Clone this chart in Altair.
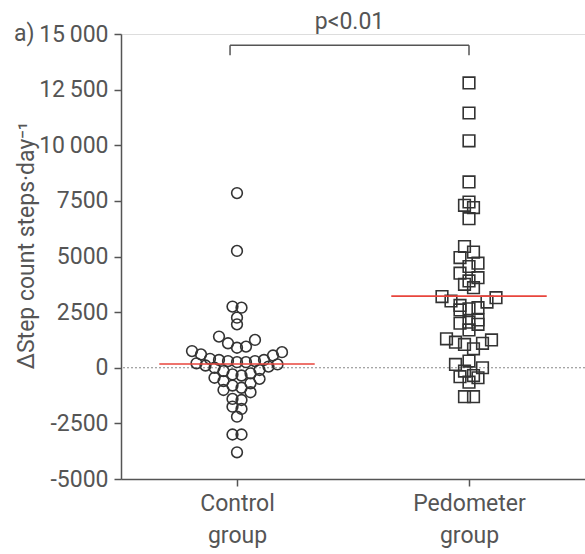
import altair as alt
import numpy as np
import pandas as pd

# Change in daily step count (steps per day) for each participant
control_steps = [7850, 5250, 2750, 2700, 2250, 1950, 1400, 1250, 1100, 950, 900, 750,
                 700, 600, 550, 400, 350, 350, 300, 300, 250, 250, 200, 150, 100, 50, 0,
                 -100, -150, -250, -300, -350, -450, -500, -600, -700, -800, -900, -1000,
                 -1100, -1400, -1450, -1750, -1850, -2200, -3000, -3000, -3800]
pedometer_steps = [12800, 11450, 10200, 8350, 7450, 7300, 7200, 6700, 5450, 5200, 4950,
                   4700, 4550, 4250, 4050, 3900, 3750, 3600, 3200, 3150, 3000, 2950, 2800,
                   2700, 2650, 2600, 2150, 2050, 2000, 1950, 1700, 1300, 1250, 1150, 1100,
                   1050, 850, 300, 150, 0, -150, -350, -400, -450, -650, -1300, -1300]

group_names = ["Control", "Pedometer"]
group_pos = [0.5, 1.5]
y_ticks = [-5000, -2500, 0, 2500, 5000, 7500, 10000, 12500, 15000]
p_label = "p<0.01"

W, H = 464, 445
Y_MIN, Y_MAX = -5000, 15000
X_MIN, X_MAX = 0.0, 2.0


def row_offsets(values, bin_size=600, bin_origin=250, spacing_px=9.0):
    """Scatter-dot layout: values are grouped into horizontal bins; inside a
    bin the points sit side by side, lowest value in the middle and higher
    values further out, alternating right and left."""
    bins = {}
    for i, v in enumerate(values):
        bins.setdefault(int(np.floor((v - bin_origin) / bin_size)), []).append(i)
    offsets = [0.0] * len(values)
    for members in bins.values():
        n = len(members)
        slots = [(j - (n - 1) / 2) * spacing_px for j in range(n)]
        slots.sort(key=lambda s: (abs(s), -s))
        ranked = sorted(members, key=lambda i: values[i])
        for i, s in zip(ranked, slots):
            offsets[i] = s
    px_per_x = W / (X_MAX - X_MIN)
    return [o / px_per_x for o in offsets]


rows = []
for name, pos, vals in zip(group_names, group_pos, [control_steps, pedometer_steps]):
    for v, off in zip(vals, row_offsets(vals)):
        rows.append({"group": name, "center": pos, "x": pos + off, "steps": v})
points = pd.DataFrame(rows)

x_scale = alt.Scale(domain=[X_MIN, X_MAX], nice=False, zero=False)
y_scale = alt.Scale(domain=[Y_MIN, Y_MAX], nice=False, zero=False)

FONT = "Roboto"
FS = 23
INK = "#555555"

base = alt.Chart(points)

x_axis = alt.Axis(
    values=group_pos, title=None, grid=False,
    labelExpr="datum.value < 1 ? ['Control', 'group'] : ['Pedometer', 'group']",
    labelFontSize=FS, labelColor=INK, labelFont=FONT, labelPadding=6,
    labelLineHeight=32, tickSize=7, tickColor=INK, tickWidth=1.5,
    domainColor=INK, domainWidth=1.5,
)
y_axis = alt.Axis(
    values=y_ticks, grid=False,
    title="\u0394Step count steps\u00b7day\u207b\u00b9",
    titleFont=FONT, titleFontSize=FS, titleFontWeight="normal", titleColor=INK,
    titleX=-95, titleY=211, titleAngle=-90, titleAlign="center", titleBaseline="middle",
    labelExpr="datum.value >= 10000 ? slice(toString(datum.value), 0, 2) + '\u2009' + "
              "slice(toString(datum.value), 2) : toString(datum.value)",
    labelFontSize=FS, labelColor=INK, labelFont=FONT, labelPadding=6,
    tickSize=7, tickColor=INK, tickWidth=1.5, domainColor=INK, domainWidth=1.5,
)

zero_line = alt.Chart(pd.DataFrame({"y": [0]})).mark_rule(
    color="#888888", strokeDash=[2, 2], strokeWidth=1.2
).encode(y=alt.Y("y:Q", scale=y_scale, axis=y_axis))

circles = base.transform_filter(alt.datum.group == "Control").mark_point(
    shape="circle", filled=False, size=115, stroke="#333333", strokeWidth=1.6, opacity=1
).encode(
    x=alt.X("x:Q", scale=x_scale, axis=x_axis),
    y=alt.Y("steps:Q", scale=y_scale),
)
squares = base.transform_filter(alt.datum.group == "Pedometer").mark_point(
    shape="square", filled=False, size=135, stroke="#333333", strokeWidth=1.6, opacity=1
).encode(
    x=alt.X("x:Q", scale=x_scale),
    y=alt.Y("steps:Q", scale=y_scale),
)

means = base.transform_aggregate(
    mean_steps="mean(steps)", groupby=["group", "center"]
).transform_calculate(
    x1="datum.center - 0.335", x2="datum.center + 0.335"
).mark_rule(color="#e8453c", strokeWidth=1.6).encode(
    x=alt.X("x1:Q", scale=x_scale),
    x2="x2:Q",
    y=alt.Y("mean_steps:Q", scale=y_scale),
)

# significance bracket between the two groups
bracket_x = [0.47, 1.5]
bracket_top = 14500
bracket_foot = 14050
bar_df = pd.DataFrame({"xa": [bracket_x[0]], "xb": [bracket_x[1]], "y": [bracket_top]})
legs_df = pd.DataFrame({"x": bracket_x, "y1": [bracket_foot] * 2, "y2": [bracket_top] * 2})
bracket_bar = alt.Chart(bar_df).mark_rule(color=INK, strokeWidth=1.5).encode(
    x=alt.X("xa:Q", scale=x_scale), x2="xb:Q", y=alt.Y("y:Q", scale=y_scale)
)
bracket_legs = alt.Chart(legs_df).mark_rule(color=INK, strokeWidth=1.5).encode(
    x=alt.X("x:Q", scale=x_scale), y=alt.Y("y1:Q", scale=y_scale), y2="y2:Q"
)
p_text = alt.Chart(pd.DataFrame({"x": [sum(bracket_x) / 2], "y": [15550], "t": [p_label]})).mark_text(
    font=FONT, fontSize=FS, color=INK, baseline="middle", align="center"
).encode(x=alt.X("x:Q", scale=x_scale), y=alt.Y("y:Q", scale=y_scale), text="t:N")

panel_tag = alt.Chart(pd.DataFrame({"t": ["a)"]})).mark_text(
    font=FONT, fontSize=FS, color=INK, baseline="middle", align="left"
).encode(x=alt.value(-107), y=alt.value(0), text="t:N")

chart = alt.layer(
    zero_line, circles, squares, means, bracket_bar, bracket_legs, p_text, panel_tag
).properties(
    width=W, height=H,
    autosize=alt.AutoSizeParams(type="none"),
    padding={"left": 121, "top": 34, "right": 0, "bottom": 75},
).configure_view(stroke=None).configure(background="white")

chart.save("out.html", embed_options={"renderer": "svg", "actions": False})
